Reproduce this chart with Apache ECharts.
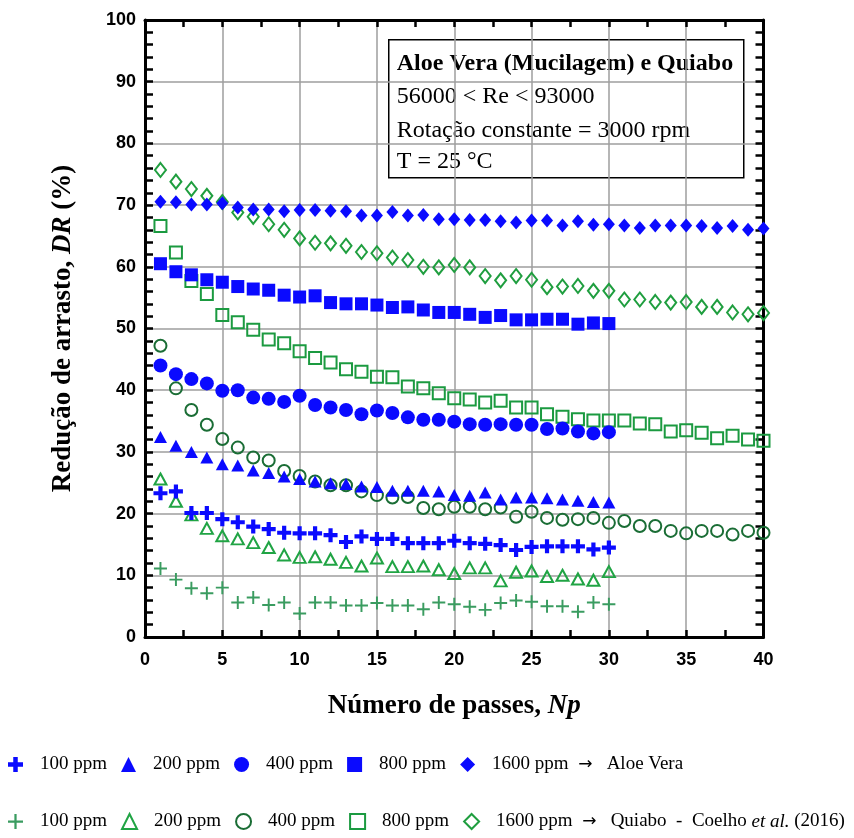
<!DOCTYPE html>
<html><head><meta charset="utf-8">
<script src="https://cdn.jsdelivr.net/npm/echarts@6/dist/echarts.min.js"></script>
<style>html,body{margin:0;padding:0;background:#fff}#c{width:854px;height:838px}</style>
</head><body><div id="c"></div>
<script>
// Number of passes
const NP = [1,2,3,4,5,6,7,8,9,10,11,12,13,14,15,16,17,18,19,20,21,22,23,24,25,26,27,28,29,30,31,32,33,34,35,36,37,38,39,40];

// Aloe Vera (mucilage)
const aloe100  = [23.3,23.6,20.1,20.1,19.1,18.6,17.9,17.5,16.9,16.8,16.8,16.5,15.4,16.3,15.9,15.9,15.2,15.2,15.2,15.6,15.2,15.1,14.9,14.1,14.6,14.7,14.7,14.7,14.2,14.5];
const aloe200  = [32.4,31.0,30.0,29.1,28.0,27.8,27.0,26.6,26.0,25.6,25.2,24.9,24.8,24.4,24.3,23.7,23.7,23.7,23.6,23.0,22.9,23.4,22.3,22.6,22.6,22.5,22.3,22.1,21.9,21.8];
const aloe400  = [44.0,42.6,41.8,41.1,39.9,40.0,38.8,38.6,38.1,39.1,37.6,37.2,36.8,36.1,36.7,36.3,35.6,35.2,35.2,34.9,34.5,34.4,34.5,34.4,34.4,33.7,33.8,33.3,33.0,33.2];
const aloe800  = [60.5,59.2,58.7,57.9,57.5,56.8,56.4,56.2,55.4,55.1,55.3,54.2,54.0,54.0,53.8,53.4,53.5,53.0,52.6,52.6,52.3,51.8,52.1,51.4,51.4,51.5,51.5,50.7,50.9,50.8];
const aloe1600 = [70.55,70.45,70.1,70.1,70.3,69.6,69.3,69.3,69.0,69.2,69.2,69.1,69.0,68.3,68.3,68.9,68.3,68.4,67.7,67.7,67.6,67.6,67.4,67.2,67.5,67.5,66.7,67.4,66.8,66.9,66.7,66.3,66.7,66.7,66.7,66.6,66.3,66.6,66.0,66.2];

// Quiabo - Coelho et al. (2016)
const quiabo100  = [11.1,9.3,7.9,7.1,8.0,5.6,6.4,5.2,5.6,3.8,5.6,5.6,5.1,5.1,5.5,5.1,5.1,4.5,5.6,5.3,4.9,4.4,5.5,5.9,5.7,5.0,5.0,4.1,5.6,5.3];
const quiabo200  = [25.6,22.0,19.8,17.6,16.4,15.9,15.3,14.5,13.3,12.9,13.0,12.6,12.1,11.5,12.8,11.4,11.4,11.5,10.9,10.3,11.2,11.2,9.1,10.5,10.7,9.8,10.0,9.4,9.2,10.6];
const quiabo400  = [47.2,40.3,36.8,34.4,32.1,30.7,29.1,28.6,26.9,26.1,25.2,24.6,24.6,23.6,23.0,22.6,22.7,20.9,20.7,21.1,21.1,20.7,21.0,19.5,20.3,19.3,19.0,19.1,19.3,18.5,18.8,18.0,18.0,17.2,16.8,17.2,17.2,16.6,17.2,16.9];
const quiabo800  = [66.6,62.3,57.7,55.6,52.2,51.0,49.8,48.2,47.6,46.3,45.2,44.5,43.4,43.0,42.2,42.1,40.6,40.3,39.5,38.7,38.5,38.0,38.3,37.2,37.2,36.1,35.7,35.3,35.1,35.1,35.1,34.6,34.5,33.3,33.5,33.1,32.2,32.6,32.0,31.8];
const quiabo1600 = [75.7,73.8,72.6,71.5,70.5,68.8,68.1,66.9,66.0,64.6,63.9,63.8,63.4,62.4,62.2,61.5,61.1,60.0,59.9,60.3,59.9,58.5,57.8,58.5,57.9,56.7,56.8,56.9,56.1,56.1,54.7,54.7,54.3,54.2,54.3,53.5,53.5,52.6,52.3,52.5];

const concLabels = {'100':'100 ppm','200':'200 ppm','400':'400 ppm','800':'800 ppm','1600':'1600 ppm'};
const aloeNames = ['A100','A200','A400','A800','A1600'];
const quiNames  = ['Q100','Q200','Q400','Q800','Q1600'];
const boxLines = ['Aloe Vera (Mucilagem) e Quiabo','56000 < Re < 93000','Rotação constante = 3000 rpm','T = 25 °C'];

const BLUE = '#0a0aff';
const G_PLUS = '#3a9c60', G_TRI = '#20a444', G_CIRC = '#1a6d35', G_SQ = '#1b9a40', G_DIA = '#1f9e3f';
const PLUS_THICK = 'path://M3.5,0H6.5V3.5H10V6.5H6.5V10H3.5V6.5H0V3.5H3.5Z';
const PLUS_THIN = 'path://M4.25,0H5.75V4.25H10V5.75H5.75V10H4.25V5.75H0V4.25H4.25Z';

function pts(vals){ return vals.map((v,i)=>[NP[i], v]); }
function filled(name, vals, symbol, size){
  return {type:'scatter', name, data: pts(vals), symbol, symbolSize: size, z: 5,
    itemStyle:{color: BLUE, opacity:1}, emphasis:{disabled:true}};
}
function open(name, vals, symbol, size, col){
  return {type:'scatter', name, data: pts(vals), symbol, symbolSize: size, z: 4,
    itemStyle:{color:'rgba(255,255,255,0)', borderColor: col, borderWidth: 2, opacity:1}, emphasis:{disabled:true}};
}
function plusSeries(name, vals, symbol, size, col, z){
  return {type:'scatter', name, data: pts(vals), symbol, symbolSize: size, z,
    itemStyle:{color: col, opacity:1}, emphasis:{disabled:true}};
}

const series = [
  plusSeries('Q100', quiabo100, PLUS_THIN, 13, G_PLUS, 4),
  open('Q200', quiabo200, 'triangle', [12,11], G_TRI),
  open('Q400', quiabo400, 'circle', 12, G_CIRC),
  open('Q800', quiabo800, 'rect', 12, G_SQ),
  open('Q1600', quiabo1600, 'diamond', [11,14], G_DIA),
  plusSeries('A100', aloe100, PLUS_THICK, 14, BLUE, 5),
  filled('A200', aloe200, 'triangle', [13,12]),
  filled('A400', aloe400, 'circle', 14),
  filled('A800', aloe800, 'rect', 13),
  filled('A1600', aloe1600, 'diamond', [12,14])
];

const serif = "'Liberation Serif','Times New Roman',serif";
const sans = "'Liberation Sans',Arial,sans-serif";

function legendFmt(name){
  const lab = concLabels[name.slice(1)];
  if (name === 'A1600') return lab + '  {a|→}   Aloe Vera';
  if (name === 'Q1600') return lab + '  {a|→}   Quiabo  -  Coelho {i|et al.} (2016)';
  return lab;
}
const legTS = {fontFamily: serif, fontSize: 19, color:'#000', padding:[0,0,0,12],
  rich:{i:{fontFamily: serif, fontSize:19, fontStyle:'italic', color:'#000'},
        a:{fontFamily:"'DejaVu Sans'", fontSize:17, color:'#000'}}};

const axisLineStyle = {color:'#000', width:3};
const tickStyle = {color:'#000', width:2.5};

const legendCommon = {orient:'horizontal', itemWidth:15, itemHeight:15, itemGap:14, padding:0,
  width:850, formatter: legendFmt, textStyle: legTS, selectedMode:false};

const option = {
  animation: false,
  backgroundColor: '#fff',
  grid: {left:145, right:90.5, top:20, bottom:201, containLabel:false},
  xAxis: [
    {type:'value', min:0, max:40, interval:5, position:'bottom',
     axisLine:{show:true, onZero:false, lineStyle:axisLineStyle},
     axisTick:{show:true, inside:true, length:7, lineStyle:tickStyle},
     minorTick:{show:true, splitNumber:2, length:7, lineStyle:tickStyle},
     splitLine:{show:true, lineStyle:{color:'#9e9e9e', width:1.5}},
     axisLabel:{fontFamily:sans, fontWeight:'bold', fontSize:18, color:'#000', margin:14},
     name:'{b|Número de passes, }{bi|Np}', nameLocation:'middle', nameGap:56,
     nameTextStyle:{rich:{b:{fontFamily:serif, fontWeight:'bold', fontSize:27, color:'#000'},
                          bi:{fontFamily:serif, fontWeight:'bold', fontStyle:'italic', fontSize:27, color:'#000'}}}},
    {type:'value', min:0, max:40, interval:5, position:'top',
     axisLine:{show:true, onZero:false, lineStyle:axisLineStyle},
     axisTick:{show:true, inside:true, length:7, lineStyle:tickStyle},
     minorTick:{show:true, splitNumber:2, length:7, lineStyle:tickStyle},
     splitLine:{show:false}, axisLabel:{show:false}}
  ],
  yAxis: [
    {type:'value', min:0, max:100, interval:10, position:'left',
     axisLine:{show:true, onZero:false, lineStyle:axisLineStyle},
     axisTick:{show:true, inside:true, length:8, lineStyle:tickStyle},
     minorTick:{show:true, splitNumber:5, length:8, lineStyle:tickStyle},
     splitLine:{show:true, lineStyle:{color:'#9e9e9e', width:1.5}},
     axisLabel:{fontFamily:sans, fontWeight:'bold', fontSize:18, color:'#000', margin:9},
     name:'{b|Redução de arrasto, }{bi|DR}{b| (%)}', nameLocation:'middle', nameGap:68, nameRotate:90,
     nameTextStyle:{rich:{b:{fontFamily:serif, fontWeight:'bold', fontSize:27, color:'#000'},
                          bi:{fontFamily:serif, fontWeight:'bold', fontStyle:'italic', fontSize:27, color:'#000'}}}},
    {type:'value', min:0, max:100, interval:10, position:'right',
     axisLine:{show:true, onZero:false, lineStyle:axisLineStyle},
     axisTick:{show:true, inside:true, length:8, lineStyle:tickStyle},
     minorTick:{show:true, splitNumber:5, length:8, lineStyle:tickStyle},
     splitLine:{show:false}, axisLabel:{show:false}}
  ],
  legend: [
    Object.assign({data: aloeNames, left: 8, top: 755}, legendCommon),
    Object.assign({data: quiNames, left: 8, top: 812}, legendCommon)
  ],
  graphic: [
    {type:'group', left:388, top:39, z:100, children:[
      {type:'rect', shape:{x:0, y:0, width:355, height:138}, style:{fill:'#fff', stroke:'#000', lineWidth:1.5}},
      {type:'text', x:8, y:24, style:{text: boxLines[0], font:"bold 24px 'Liberation Serif'", fill:'#000', verticalAlign:'middle'}},
      {type:'text', x:8, y:57, style:{text: boxLines[1], font:"24px 'Liberation Serif'", fill:'#000', verticalAlign:'middle'}},
      {type:'text', x:8, y:91, style:{text: boxLines[2], font:"24px 'Liberation Serif'", fill:'#000', verticalAlign:'middle'}},
      {type:'text', x:8, y:122, style:{text: boxLines[3], font:"24px 'Liberation Serif'", fill:'#000', verticalAlign:'middle'}}
    ]}
  ],
  series
};

const chart = echarts.init(document.getElementById('c'), null, {renderer:'canvas'});
chart.setOption(option);
</script>
</body></html>
